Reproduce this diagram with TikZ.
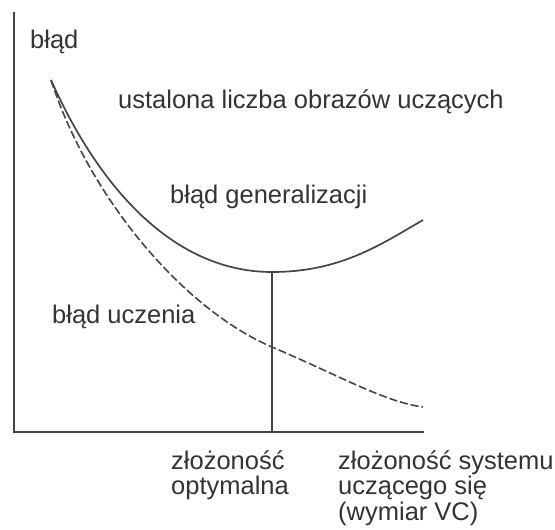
\documentclass[tikz,border=0pt]{standalone}
\usepackage{fontspec}
\setmainfont{Liberation Sans}
\definecolor{linegray}{HTML}{454545}
\definecolor{textgray}{HTML}{333333}
\begin{document}
\begin{tikzpicture}[x=1pt,y=-1pt,
  axisline/.style={draw=linegray,line width=1.7pt},
  curveline/.style={draw=linegray,line width=1.7pt},
  trainline/.style={draw=linegray,line width=1.6pt,dash pattern=on 8pt off 3pt},
  lbl/.style={text=textgray,inner sep=0pt,anchor=base west,font=\fontsize{25.5}{25.5}\selectfont,align=left}]
\useasboundingbox (0,0) rectangle (555,530);
% axes
\coordinate (ytop) at (14,12);
\coordinate (O) at (14,432);
\coordinate (xend) at (424,432);
\draw[axisline] (ytop) -- (O) -- (xend);
% curves
\coordinate (start) at (51,80);
\coordinate (gmin) at (272,272);
\coordinate (gend) at (423,220);
\coordinate (tmid) at (272,347);
\coordinate (tend) at (423,407);
\coordinate (optx) at (272,432);
\draw[curveline] (start) .. controls (100,190) and (175,272) .. (gmin)
  .. controls (340,272) and (380,245) .. (gend);
\draw[trainline] (start) .. controls (90,200) and (185,310) .. (tmid)
  .. controls (340,376) and (385,402) .. (tend);
\draw[axisline] (gmin) -- (optx);
% labels
\node[lbl] (ylab) at (30,48) {błąd};
\node[lbl] (fixed) at (118,108) {ustalona liczba obrazów uczących};
\node[lbl] (gen) at (170,203) {błąd generalizacji};
\node[lbl] (train) at (52,323) {błąd uczenia};
\node[lbl] (optlab) at (171,494.5) {złożoność\\optymalna};
\node[lbl] (xlab) at (338,520) {złożoność systemu\\uczącego się\\(wymiar VC)};
\end{tikzpicture}
\end{document}
